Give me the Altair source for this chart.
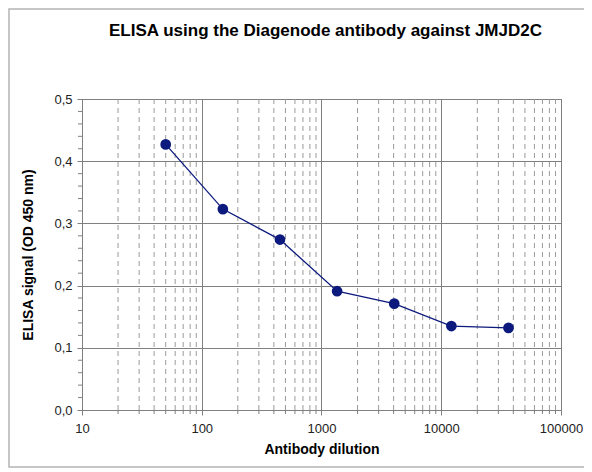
import altair as alt
import pandas as pd

# ---- data ----
dilution = [50, 150, 450, 1350, 4050, 12150, 36450]
signal = [0.427, 0.323, 0.274, 0.191, 0.171, 0.135, 0.132]

x_major = [10, 100, 1000, 10000, 100000]
x_minor = [20, 30, 40, 50, 60, 70, 80, 90,
           200, 300, 400, 500, 600, 700, 800, 900,
           2000, 3000, 4000, 5000, 6000, 7000, 8000, 9000,
           20000, 30000, 40000, 50000, 60000, 70000, 80000, 90000]
y_major = [0.0, 0.1, 0.2, 0.3, 0.4, 0.5]
y_minor = [0.02, 0.04, 0.06, 0.08, 0.12, 0.14, 0.16, 0.18,
           0.22, 0.24, 0.26, 0.28, 0.32, 0.34, 0.36, 0.38,
           0.42, 0.44, 0.46, 0.48]

W, H = 479, 311
NAVY = "#0c1a7e"
GRID = "#808080"
FONT = "Liberation Sans"

df = pd.DataFrame({"dilution": dilution, "signal": signal})
xminor_df = pd.DataFrame({"m": x_minor})
yminor_df = pd.DataFrame({"ym": y_minor})
one = pd.DataFrame({"k": [0]})

xscale = alt.Scale(type="log", domain=[10, 100000], nice=False)
yscale = alt.Scale(domain=[0, 0.5], nice=False, zero=True)

xaxis = alt.Axis(values=x_major, format="d", grid=True, gridColor=GRID, gridWidth=1,
                 tickColor=GRID, tickSize=5, domainColor=GRID, labelFlush=False,
                 labelOverlap=False,
                 labelFont=FONT, labelFontSize=13, labelColor="#222222", labelPadding=7,
                 title="Antibody dilution", titleFont=FONT, titleFontSize=14,
                 titleFontWeight="bold", titleColor="#000000", titlePadding=7)
yaxis = alt.Axis(values=y_major, grid=True, gridColor=GRID, gridWidth=1,
                 labelExpr="replace(format(datum.value, '.1f'), '.', ',')",
                 tickColor=GRID, tickSize=5, domainColor=GRID, labelFlush=False,
                 labelFont=FONT, labelFontSize=13, labelColor="#222222", labelPadding=5,
                 title="ELISA signal (OD 450 nm)", titleFont=FONT, titleFontSize=14,
                 titleFontWeight="bold", titleColor="#000000", titlePadding=18)

X = lambda f: alt.X(f, type="quantitative", scale=xscale, axis=xaxis)
Y = lambda f: alt.Y(f, type="quantitative", scale=yscale, axis=yaxis)

vgrid = alt.Chart(xminor_df).mark_rule(color="#9a9a9a", strokeDash=[5, 4], strokeWidth=1).encode(
    x=X("m"), y=alt.value(0), y2=alt.value(H))

xticks = alt.Chart(xminor_df).mark_rule(color=GRID, strokeWidth=1).encode(
    x=X("m"), y=alt.value(H), y2=alt.value(H + 4))

yticks = alt.Chart(yminor_df).mark_rule(color=GRID, strokeWidth=1).encode(
    y=Y("ym"), x=alt.value(-4), x2=alt.value(0))

line = alt.Chart(df).mark_line(color=NAVY, strokeWidth=1.3).encode(
    x=X("dilution"), y=Y("signal"))

points = alt.Chart(df).mark_circle(size=115, color=NAVY, opacity=1).encode(
    x=X("dilution"), y=Y("signal"))

frame = alt.Chart(one).mark_rect(fillOpacity=0, stroke="#b4b4b4", strokeWidth=1.5).encode(
    x=alt.value(-73), x2=alt.value(530), y=alt.value(-90), y2=alt.value(H + 57))

chart = alt.layer(vgrid, xticks, yticks, line, points, frame).properties(
    width=W, height=H,
    title=alt.TitleParams("ELISA using the Diagenode antibody against JMJD2C",
                          font=FONT, fontSize=17, fontWeight="bold", color="#000000",
                          anchor="middle", frame="group", offset=0, dy=32, dx=4),
    autosize=alt.AutoSizeParams(type="none"),
    padding={"left": 74, "top": 91, "right": 23, "bottom": 58},
).configure_view(stroke=GRID, strokeWidth=1)

chart.save("out.html", embed_options={"renderer": "svg", "actions": False})
